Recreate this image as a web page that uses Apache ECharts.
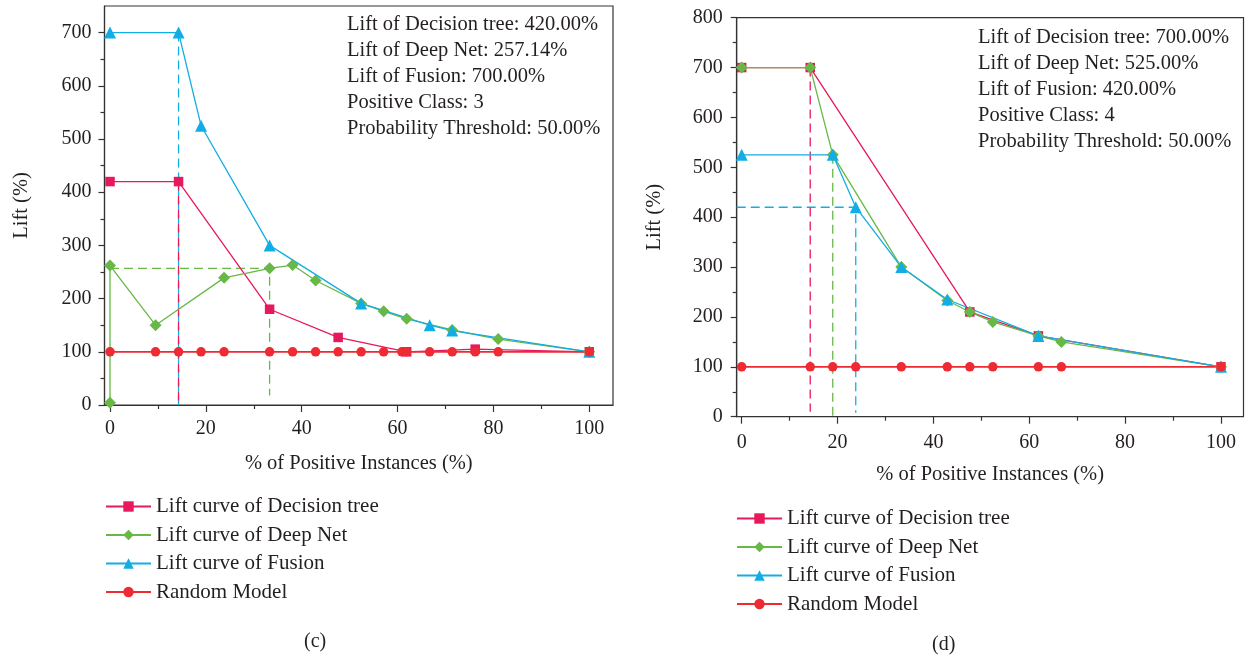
<!DOCTYPE html>
<html>
<head>
<meta charset="utf-8">
<script src="https://cdn.jsdelivr.net/npm/echarts@6/dist/echarts.min.js"></script>
<style>
  html, body { margin: 0; padding: 0; background: #ffffff; }
  #panelC { position: absolute; left: 0; top: 0; width: 623px; height: 658px; }
  #panelD { position: absolute; left: 623px; top: 0; width: 623px; height: 658px; }
</style>
</head>
<body>
<div id="panelC"></div>
<div id="panelD"></div>
<script>
// ---- Panel (c): positive class 3 ----
const cTreeX   = [0, 14.3, 33.3, 47.6, 61.9, 76.2, 100];
const cTreeY   = [420, 420, 180, 127, 100, 105, 100];
const cDeepX   = [0, 0, 9.5, 23.8, 33.3, 38.1, 42.9, 52.4, 57.1, 61.9, 71.4, 81.0, 100];
const cDeepY   = [4, 262, 150, 239, 257, 263, 234, 191, 176, 162, 141, 124, 100];
const cFusionX = [0, 14.3, 19.0, 33.3, 52.4, 66.7, 71.4, 100];
const cFusionY = [700, 700, 525, 300, 191, 150, 140, 100];
const cRandomX = [0, 9.5, 14.3, 19.0, 23.8, 33.3, 38.1, 42.9, 47.6, 52.4, 57.1, 60.9, 61.9, 66.7, 71.4, 76.2, 81.0, 100];
const cRandomY = [100, 100, 100, 100, 100, 100, 100, 100, 100, 100, 100, 100, 100, 100, 100, 100, 100, 100];
// dashed guides marking the reported lift of each model
const cGuideTree   = [[14.3, 420], [14.3, 0]];
const cGuideDeep   = [[0, 257], [33.3, 257], [33.3, 18]];
const cGuideFusion = [[14.3, 700], [14.3, 0]];
const cNotes = ['Lift of Decision tree: 420.00%', 'Lift of Deep Net: 257.14%', 'Lift of Fusion: 700.00%', 'Positive Class: 3', 'Probability Threshold: 50.00%'];

// ---- Panel (d): positive class 4 ----
const dTreeX   = [0, 14.3, 47.6, 61.9, 100];
const dTreeY   = [700, 700, 210, 162, 100];
const dDeepX   = [0, 14.3, 19.0, 33.3, 42.9, 47.6, 52.4, 61.9, 66.7, 100];
const dDeepY   = [700, 700, 525, 300, 233, 210, 190, 162, 150, 100];
const dFusionX = [0, 19.0, 23.8, 33.3, 42.9, 61.9, 100];
const dFusionY = [525, 525, 420, 300, 235, 162, 100];
const dRandomX = [0, 14.3, 19.0, 23.8, 33.3, 42.9, 47.6, 52.4, 61.9, 66.7, 100];
const dRandomY = [100, 100, 100, 100, 100, 100, 100, 100, 100, 100, 100];
const dGuideTree   = [[14.3, 700], [14.3, 10]];
const dGuideDeep   = [[19.0, 525], [19.0, 0]];
const dGuideFusion = [[-1.04, 420], [23.8, 420], [23.8, 8]];
const dNotes = ['Lift of Decision tree: 700.00%', 'Lift of Deep Net: 525.00%', 'Lift of Fusion: 420.00%', 'Positive Class: 4', 'Probability Threshold: 50.00%'];

// ---- shared axis ticks and names ----
const xMajorTicks = [0, 20, 40, 60, 80, 100];
const xMinorTicks = [10, 30, 50, 70, 90];
const cYMajorTicks = [0, 100, 200, 300, 400, 500, 600, 700];
const cYMinorTicks = [50, 150, 250, 350, 450, 550, 650];
const dYMajorTicks = [0, 100, 200, 300, 400, 500, 600, 700, 800];
const dYMinorTicks = [50, 150, 250, 350, 450, 550, 650, 750];
const seriesNames = ['Lift curve of Decision tree', 'Lift curve of Deep Net', 'Lift curve of Fusion', 'Random Model'];

const FONT = 'Liberation Serif';
const INK = '#231f20';
const COL_TREE = '#e8185c';
const COL_DEEP = '#67b847';
const COL_FUSION = '#12ade4';
const COL_RANDOM = '#ee2a33';

function pairs(xs, ys) { return xs.map((x, i) => [x, ys[i]]); }

function curve(name, xs, ys, color, symbol, size, width) {
  return {
    name: name, type: 'line', xAxisIndex: 0, yAxisIndex: 0,
    data: pairs(xs, ys),
    symbol: symbol, symbolSize: size, showSymbol: true,
    lineStyle: { color: color, width: width },
    itemStyle: { color: color },
    z: 3, animation: false, silent: true
  };
}

function guide(points, color) {
  return {
    type: 'line', xAxisIndex: 0, yAxisIndex: 0,
    data: points, symbol: 'none',
    lineStyle: { color: color, width: 1.3, type: [9, 5] },
    z: 2, animation: false, silent: true
  };
}

function buildOption(p) {
  const tickLabel = { fontFamily: FONT, fontSize: 20, color: INK };
  return {
    animation: false,
    grid: { left: p.grid.left, top: p.grid.top, width: p.grid.width, height: p.grid.height,
            show: true, borderColor: '#333', borderWidth: 1.2, backgroundColor: 'transparent' },
    xAxis: [
      { type: 'value', min: p.xMin, max: p.xMax, position: 'bottom',
        name: '% of Positive Instances (%)', nameLocation: 'middle', nameGap: p.xNameGap,
        nameTextStyle: { fontFamily: FONT, fontSize: 20.5, color: INK },
        axisLine: { onZero: false, lineStyle: { color: '#333', width: 1.2 } },
        axisTick: { inside: false, length: 7, customValues: xMajorTicks, lineStyle: { color: '#333', width: 1.2 } },
        axisLabel: Object.assign({ margin: p.xLabelMargin, customValues: xMajorTicks }, tickLabel),
        splitLine: { show: false } },
      { type: 'value', min: p.xMin, max: p.xMax, position: 'bottom',
        axisLine: { show: false, onZero: false },
        axisTick: { inside: false, length: 4, customValues: xMinorTicks, lineStyle: { color: '#333', width: 1.2 } },
        axisLabel: { show: false }, splitLine: { show: false } }
    ],
    yAxis: [
      { type: 'value', min: 0, max: p.yMax, position: 'left',
        name: 'Lift (%)', nameLocation: 'middle', nameGap: p.yNameGap, nameRotate: 90,
        nameTextStyle: { fontFamily: FONT, fontSize: 20.5, color: INK },
        axisLine: { show: true, onZero: false, lineStyle: { color: '#333', width: 1.2 } },
        axisTick: { show: true, inside: false, length: 6, customValues: p.yMajor, lineStyle: { color: '#333', width: 1.2 } },
        axisLabel: Object.assign({ margin: p.yLabelMargin, customValues: p.yMajor }, tickLabel),
        splitLine: { show: false } },
      { type: 'value', min: 0, max: p.yMax, position: 'left',
        axisLine: { show: false, onZero: false },
        axisTick: { show: true, inside: false, length: 4, customValues: p.yMinor, lineStyle: { color: '#333', width: 1.2 } },
        axisLabel: { show: false }, splitLine: { show: false } }
    ],
    legend: {
      orient: 'vertical', left: p.legend.left, top: p.legend.top,
      itemWidth: 45, itemHeight: 13, itemGap: 7.5,
      data: seriesNames, selectedMode: false,
      textStyle: { fontFamily: FONT, fontSize: 21, color: INK }
    },
    graphic: [
      { type: 'text', left: p.notes.left, top: p.notes.top, silent: true,
        style: { text: p.notes.lines.join('\n'), font: '20.5px "Liberation Serif"', fill: INK, lineHeight: 26 } },
      { type: 'text', left: p.caption.left, top: p.caption.top, silent: true,
        style: { text: p.caption.text, font: '20px "Liberation Serif"', fill: INK } }
    ],
    series: [
      guide(p.guides[0], COL_DEEP),
      guide(p.guides[1], COL_FUSION),
      guide(p.guides[2], COL_TREE),
      curve(seriesNames[0], p.tree[0], p.tree[1], COL_TREE, 'rect', 9.5, 1.3),
      curve(seriesNames[1], p.deep[0], p.deep[1], COL_DEEP, 'diamond', 12, 1.3),
      curve(seriesNames[2], p.fusion[0], p.fusion[1], COL_FUSION, 'triangle', 12, 1.3),
      curve(seriesNames[3], p.random[0], p.random[1], COL_RANDOM, 'circle', 9.5, 1.8)
    ]
  };
}

const chartC = echarts.init(document.getElementById('panelC'), null, { renderer: 'canvas' });
chartC.setOption(buildOption({
  grid: { left: 104.5, top: 6, width: 508.5, height: 399 },
  xMin: -1.15, xMax: 104.95, yMax: 750,
  yMajor: cYMajorTicks, yMinor: cYMinorTicks,
  xNameGap: 48, xLabelMargin: 14, yNameGap: 72, yLabelMargin: 13,
  legend: { left: 100, top: 491 },
  notes: { left: 347, top: 12, lines: cNotes },
  caption: { left: 304, top: 632, text: '(c)' },
  guides: [cGuideDeep, cGuideFusion, cGuideTree],
  tree: [cTreeX, cTreeY], deep: [cDeepX, cDeepY], fusion: [cFusionX, cFusionY], random: [cRandomX, cRandomY]
}));

const chartD = echarts.init(document.getElementById('panelD'), null, { renderer: 'canvas' });
chartD.setOption(buildOption({
  grid: { left: 113.7, top: 17.7, width: 506.8, height: 399 },
  xMin: -1.04, xMax: 104.7, yMax: 800,
  yMajor: dYMajorTicks, yMinor: dYMinorTicks,
  xNameGap: 47, xLabelMargin: 16, yNameGap: 72, yLabelMargin: 14,
  legend: { left: 108, top: 503 },
  notes: { left: 355, top: 25, lines: dNotes },
  caption: { left: 309, top: 635, text: '(d)' },
  guides: [dGuideDeep, dGuideFusion, dGuideTree],
  tree: [dTreeX, dTreeY], deep: [dDeepX, dDeepY], fusion: [dFusionX, dFusionY], random: [dRandomX, dRandomY]
}));
</script>
</body>
</html>
